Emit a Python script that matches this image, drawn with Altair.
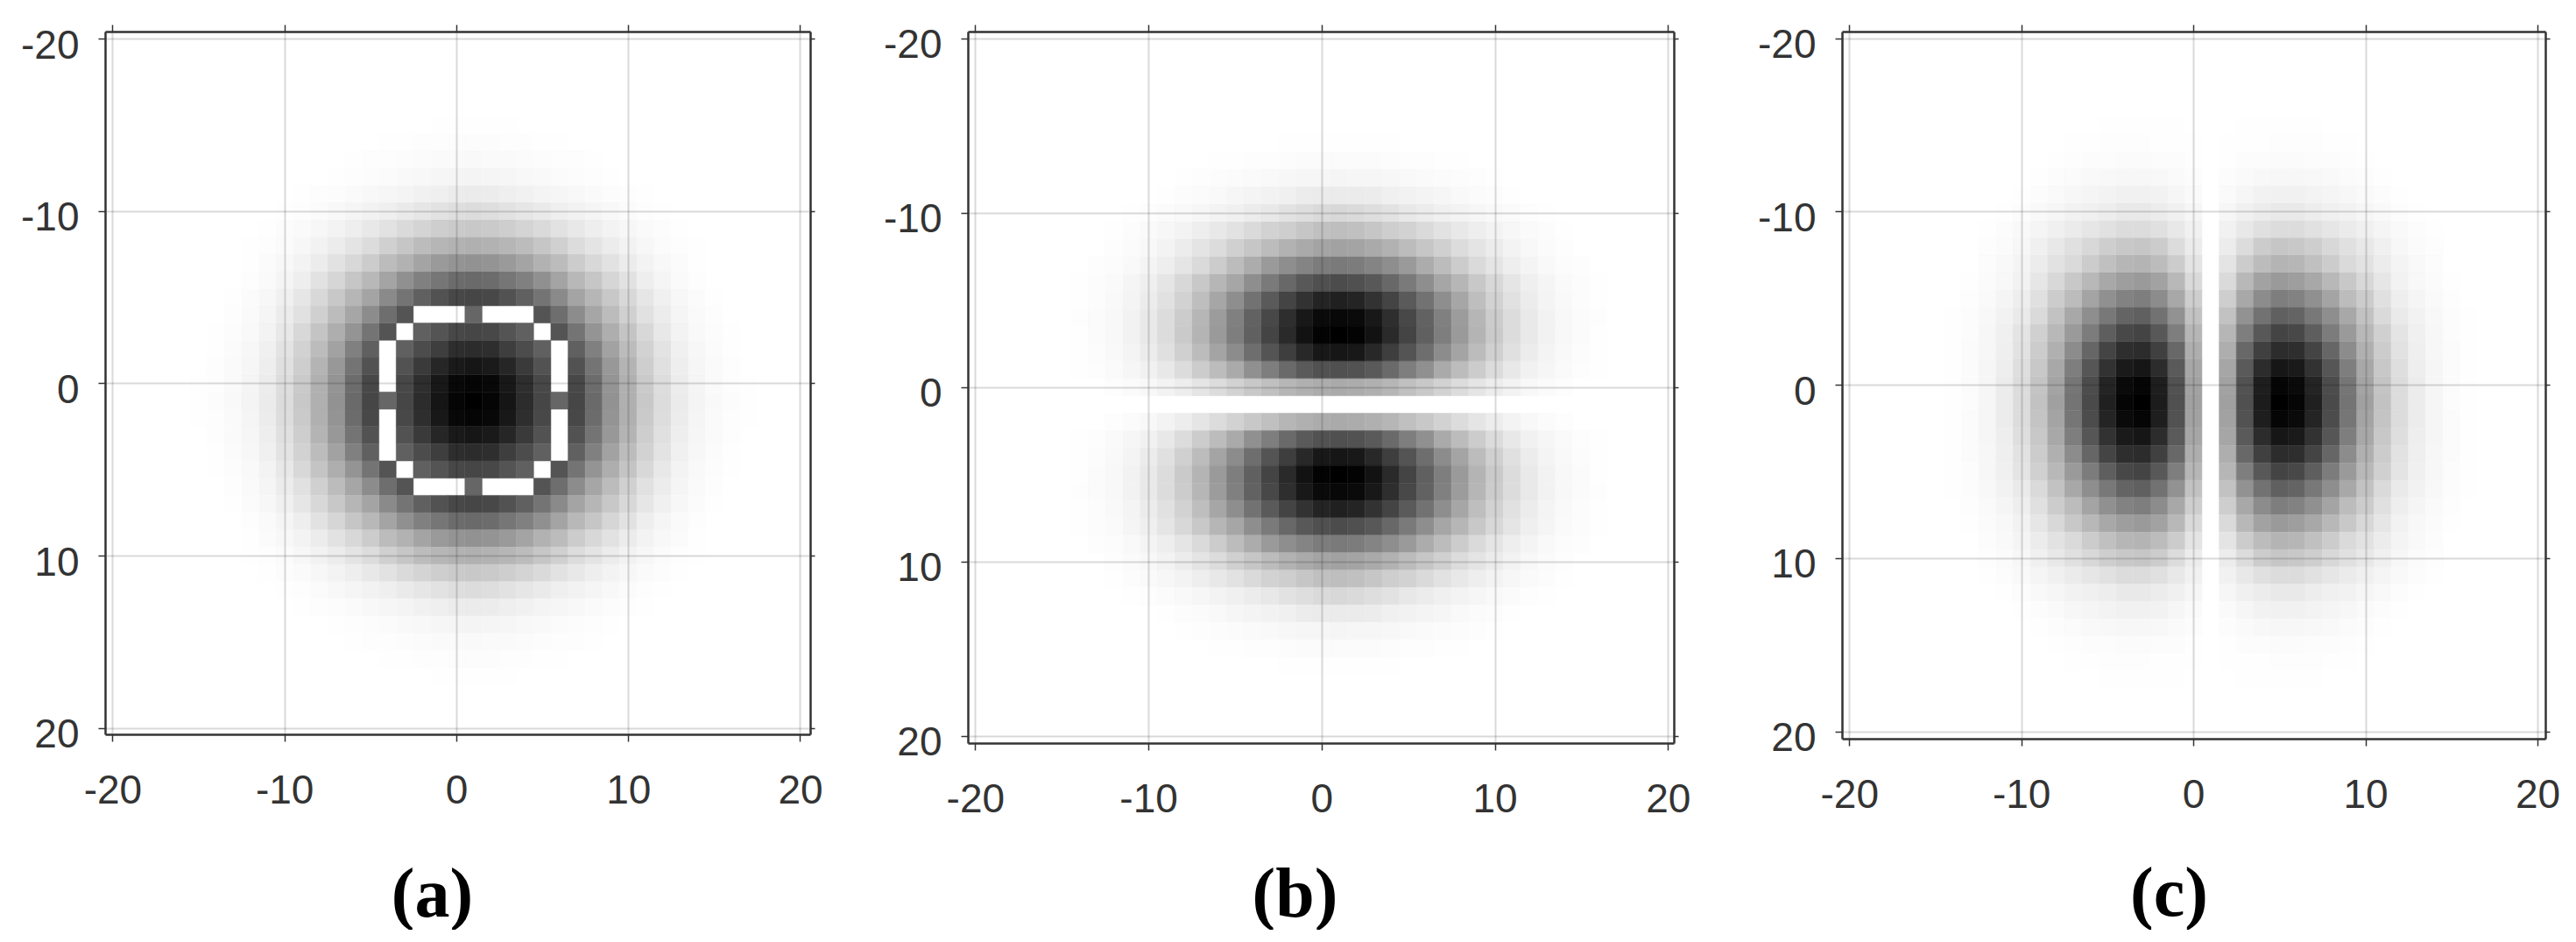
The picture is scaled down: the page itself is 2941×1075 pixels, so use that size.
import altair as alt
import pandas as pd

# Grey level of each cell (hex, 00 black .. ff white).
# One quadrant per panel, row = distance in y from the pattern centre (1, 1),
# column = distance in x. The reference patterns are mirror-symmetric about that centre.
PANEL_A = [
    "00 05 15 2c 46 66 46 6a 92 b0 c8 dc eb f4 f9 fc fe",
    "05 08 18 2e 48 ff 48 6c 94 b0 ca dd ec f5 fa fd fe",
    "16 1a 26 3a 52 ff 52 74 98 b4 ce e0 ee f6 fa fd",
    "2c 2e 3e 4c 60 ff 60 80 a2 bc d2 e3 f0 f7 fb fe",
    "46 48 54 60 ff 54 74 94 ae c4 d8 e8 f3 f9 fc fe",
    "66 ff ff ff 54 6e 8c a6 bc d0 e1 ec f5 fa fd",
    "46 48 52 60 74 8a a4 b6 c8 d8 e6 f0 f7 fb fe",
    "6a 6c 76 80 90 a4 b8 c6 d6 e2 ee f5 fa fd",
    "92 94 9a a4 b2 bc cc d8 e2 ec f3 f8 fb fe",
    "b0 b2 b6 bc c6 d0 dc e4 ec f2 f7 fb fd fe",
    "c8 ca ce d4 da e2 e8 ee f3 f7 fa fc fe",
    "dc de e2 e6 ea ef f2 f5 f8 fb fd fe",
    "eb ec ef f1 f4 f6 f8 fa fc fd fe",
    "f4 f5 f6 f8 f9 fb fc fd fe",
    "f9 fa fa fb fc fd fd fe",
    "fc fc fd fd fe fe",
    "fe fe fe",
]
PANEL_B = [
    "ff",
    "aa ac b0 b6 c0 c8 d2 dc e5 ed f3 f8 fb fd",
    "50 52 5a 6a 7e 90 aa bc cc dc e8 f1 f6 fa fd fe",
    "16 18 28 3e 54 6e 8c a4 bc d0 e0 ec f4 f9 fc fe",
    "00 03 12 2a 44 60 7e 9a b4 ca dc e9 f2 f8 fb fe",
    "08 0a 18 2e 48 62 80 9c b6 cc dc e9 f2 f8 fb fd",
    "20 24 32 44 5a 72 8e a6 be d2 e1 ec f4 f9 fc fe",
    "4c 50 58 68 7a 8e a6 b6 c8 d8 e5 ef f5 fa fc fe",
    "7a 7c 84 8e 9a ac bc cc da e5 ee f4 f9 fc fd",
    "a2 a4 aa b2 bc c6 d0 dc e4 ec f3 f8 fb fd",
    "be c0 c6 ce d2 da e2 e8 ee f3 f7 fa fc fe",
    "d8 da de e2 e8 ec f0 f3 f6 f9 fb fd fe",
    "eb eb ec f0 f2 f4 f6 f9 fb fc fe",
    "f5 f6 f6 f7 f9 fa fb fc fd fe",
    "fb fb fb fc fd fd fe fe",
    "fe fe fe fe",
]
PANEL_C = [
    "ff a0 50 1c 00 05 20 4a 74 a0 c2 dc ec f6 fc fe",
    "ff a2 52 1e 05 0a 24 4c 76 a4 c4 dc ec f6 fb fe",
    "ff a6 5a 2c 16 1a 32 56 7e a8 c8 de ee f6 fb fe",
    "ff ae 68 40 2c 2e 44 66 8c b0 cc e2 ef f7 fb fe",
    "ff b6 7e 58 44 48 5e 7c 9a b8 d0 e4 f0 f7 fc fe",
    "ff c2 92 72 60 64 78 8e a8 c2 da ea f2 f8 fc fe",
    "ff ce a8 8c 7e 82 90 a4 bc cc e0 ee f5 fa fd",
    "ff da b8 a2 9a 9e a8 b8 c8 d8 e6 f2 f8 fb fe",
    "ff e4 cc bc b4 b6 c0 cc da e2 ec f4 f9 fc",
    "ff ec dc cc c6 c8 ce d8 e0 e8 f0 f7 fb fd",
    "ff f1 e8 e0 dc dc e1 e6 eb f0 f5 f9 fc fe",
    "ff f6 f0 ec e9 e9 ed f0 f2 f6 f9 fc fe",
    "ff fa f6 f2 f1 f1 f3 f5 f7 fa fc fe",
    "ff fc fa f8 f7 f7 f8 f9 fb fc fe",
    "ff fe fc fc fb fb fc fc fd fe",
    "ff fe fe fe fd fd fd fe fe",
    "ff ff fe fe fe fe fe",
]
TICKS = [-20, -10, 0, 10, 20]
CENTRE = (1, 1)
CAPTIONS = ["(a)", "(b)", "(c)"]

INK = "#333333"
SANS = "Liberation Sans"
SERIF = "Liberation Serif"


def cells(rows):
    out = []
    for dy, row in enumerate(rows):
        for dx, text in enumerate(row.split()):
            level = int(text, 16)
            if level == 255:
                continue
            seen = set()
            for sx in (-1, 1):
                for sy in (-1, 1):
                    key = (sx * dx, sy * dy)
                    if key in seen:
                        continue
                    seen.add(key)
                    x = CENTRE[0] + key[0]
                    y = CENTRE[1] + key[1]
                    out.append(dict(x0=x - .5, x1=x + .5, y0=y - .5, y1=y + .5, v=level))
    return pd.DataFrame(out)


def panel(rows, caption, w, h, xdom, ydom, caption_x, caption_y):
    xs = alt.Scale(domain=xdom, nice=False, zero=False)
    ys = alt.Scale(domain=[ydom[1], ydom[0]], nice=False, zero=False)
    shade = alt.Scale(domain=[0, 255], range=["#000000", "#ffffff"], interpolate="rgb")
    common = dict(values=TICKS, domainColor=INK, domainWidth=2.5, tickColor=INK, tickWidth=1.5, zindex=1)
    main = dict(
        common, grid=True, gridColor="#000000", gridOpacity=.15, gridWidth=2,
        labelFont=SANS, labelFontSize=46, labelColor=INK, labelExpr='"" + datum.value',
        labelOverlap=False, labelFlush=False, labelBound=False,
    )
    heat = alt.Chart(cells(rows)).mark_rect(strokeWidth=.5).encode(
        x=alt.X("x0:Q", scale=xs, axis=alt.Axis(
            orient="bottom", tickSize=8, labelPadding=34, title=caption,
            titleFont=SERIF, titleFontSize=80, titleFontWeight="bold", titleColor="#000000",
            titleX=caption_x, titleY=caption_y, titleAlign="center", titleBaseline="alphabetic",
            **main)),
        x2="x1:Q",
        y=alt.Y("y0:Q", scale=ys, axis=alt.Axis(
            orient="left", tickSize=8, labelPadding=22, labelOffset=8, title=None, **main)),
        y2="y1:Q",
        color=alt.Color("v:Q", scale=shade, legend=None),
        stroke=alt.Stroke("v:Q", scale=shade, legend=None),
    )
    side = alt.Chart(pd.DataFrame({"x": TICKS, "y": TICKS})).mark_point(opacity=0).encode(
        x=alt.X("x:Q", scale=xs, axis=alt.Axis(orient="top", tickSize=8, labels=False, grid=False, title=None, **common)),
        y=alt.Y("y:Q", scale=ys, axis=alt.Axis(orient="right", tickSize=5, labels=False, grid=False, title=None, **common)),
    )
    return alt.layer(heat, side).resolve_axis(x="independent", y="independent").properties(width=w, height=h)


a = panel(PANEL_A, CAPTIONS[0], 805, 802, [-20.43, 20.586], [-20.41, 20.36], 373, 207)
b = panel(PANEL_B, CAPTIONS[1], 806, 812, [-20.42, 20.34], [-20.39, 20.42], 373, 197)
c = panel(PANEL_C, CAPTIONS[2], 803, 807, [-20.42, 20.46], [-20.39, 20.42], 373, 201)

left = alt.hconcat(a, b, spacing=180, bounds="flush")
chart = alt.hconcat(left, c, spacing=76).properties(
    padding={"left": 15, "top": 19, "right": 0, "bottom": 0},
    background="white",
).configure_view(stroke=None)

chart.save("out.html", embed_options={"renderer": "svg", "actions": False})
